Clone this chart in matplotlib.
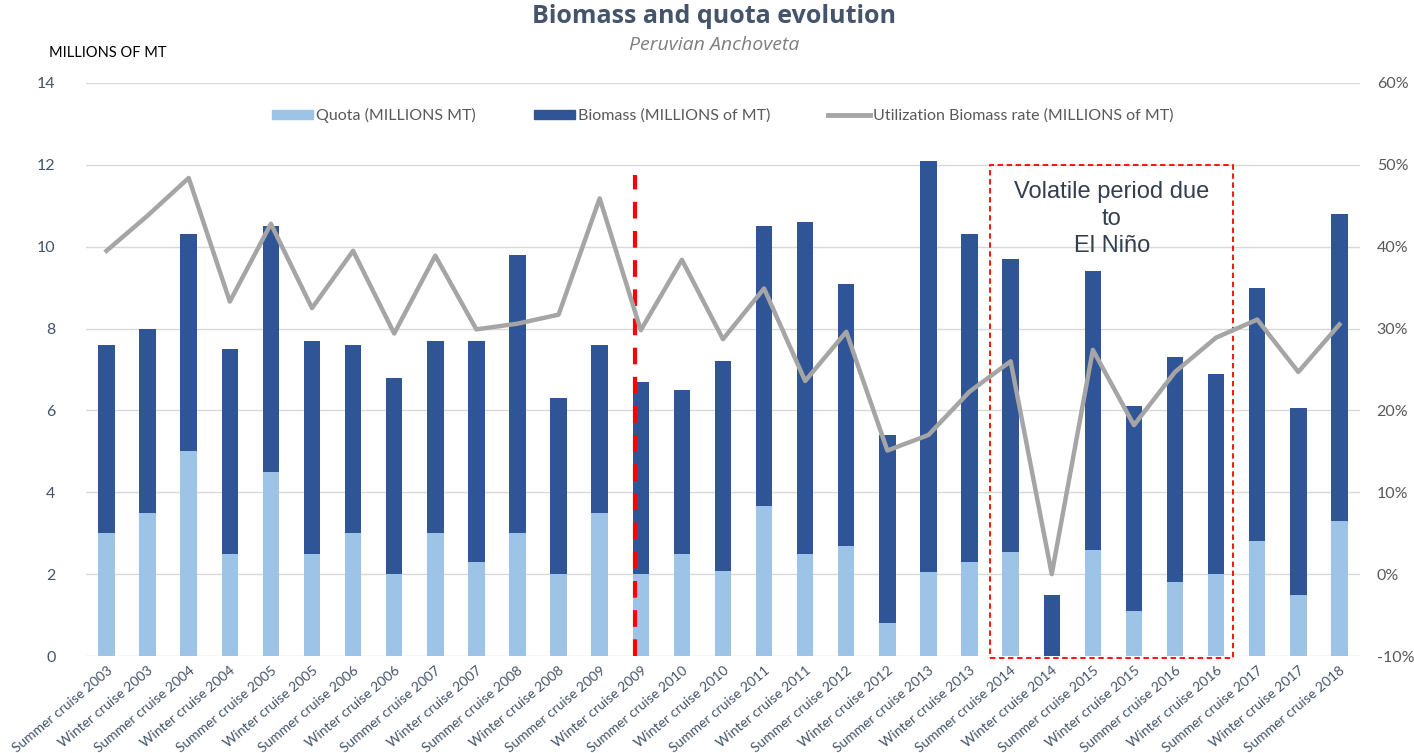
import numpy as np
import matplotlib.pyplot as plt
from matplotlib.patches import Rectangle
from matplotlib.lines import Line2D
from matplotlib.ticker import FuncFormatter

plt.rcParams['font.family'] = ['Lato', 'DejaVu Sans']

# Data
cruises = ['Summer cruise 2003', 'Winter cruise 2003', 'Summer cruise 2004', 'Winter cruise 2004',
           'Summer cruise 2005', 'Winter cruise 2005', 'Summer cruise 2006', 'Winter cruise 2006',
           'Summer cruise 2007', 'Winter cruise 2007', 'Summer cruise 2008', 'Winter cruise 2008',
           'Summer cruise 2009', 'Winter cruise 2009', 'Summer cruise 2010', 'Winter cruise 2010',
           'Summer cruise 2011', 'Winter cruise 2011', 'Summer cruise 2012', 'Winter cruise 2012',
           'Summer cruise 2013', 'Winter cruise 2013', 'Summer cruise 2014', 'Winter cruise 2014',
           'Summer cruise 2015', 'Winter cruise 2015', 'Summer cruise 2016', 'Winter cruise 2016',
           'Summer cruise 2017', 'Winter cruise 2017', 'Summer cruise 2018']
biomass = [7.6, 8.0, 10.3, 7.5, 10.5, 7.7, 7.6, 6.8, 7.7, 7.7, 9.8, 6.3, 7.6, 6.7, 6.5, 7.2,
           10.5, 10.6, 9.1, 5.4, 12.1, 10.3, 9.7, 1.5, 9.4, 6.1, 7.3, 6.9, 9.0, 6.06, 10.8]
quota = [3.0, 3.5, 5.0, 2.5, 4.5, 2.5, 3.0, 2.0, 3.0, 2.3, 3.0, 2.0, 3.5, 2.0, 2.5, 2.07,
         3.67, 2.5, 2.7, 0.81, 2.05, 2.3, 2.53, 0.0, 2.58, 1.11, 1.8, 2.0, 2.8, 1.5, 3.3]
rate = [39.5, 43.8, 48.4, 33.3, 42.8, 32.5, 39.5, 29.4, 38.9, 29.9, 30.6, 31.7, 45.9, 29.8,
        38.4, 28.7, 34.9, 23.6, 29.6, 15.1, 17.0, 22.3, 26.0, 0.0, 27.4, 18.2, 24.7, 28.9,
        31.1, 24.7, 30.5]

light = '#9DC3E6'
dark = '#2F5597'
grey = '#A5A5A5'
txt = '#595959'
slate = '#44546A'

fig = plt.figure(figsize=(14.14, 7.53), dpi=100)
ax = fig.add_axes([0.0608, 0.1288, 0.901, 0.761])
x = np.arange(len(cruises))

ax.bar(x, biomass, width=0.4, color=dark, zorder=2)
ax.bar(x, quota, width=0.4, color=light, zorder=3)
ax.set_xlim(-0.5, len(cruises) - 0.5)
ax.set_ylim(0, 14)
ax.set_yticks(np.arange(0, 15, 2))
ax.yaxis.grid(True, color='#D9D9D9', linewidth=1)
ax.set_axisbelow(True)
for s in ax.spines.values():
    s.set_visible(False)
ax.tick_params(axis='both', length=0, colors=slate, labelsize=11.5)
ax.tick_params(axis='y', pad=22)
ax.tick_params(axis='x', pad=6)
ax.set_xticks(x)
ax.set_xticklabels(cruises, rotation=40, ha='right', rotation_mode='anchor', fontsize=10)

ax2 = ax.twinx()
ax2.plot(x, rate, color=grey, linewidth=3.2, zorder=4)
ax2.set_ylim(-10, 60)
ax2.set_yticks(np.arange(-10, 61, 10))
ax2.yaxis.set_major_formatter(FuncFormatter(lambda v, p: f'{v:.0f}%'))
for s in ax2.spines.values():
    s.set_visible(False)
ax2.tick_params(axis='y', length=0, colors=txt, labelsize=11.5, pad=12)

# red dashed vertical line between the 2009 cruises
ax.plot([12.87, 12.87], [0, 11.75], color='red', linestyle=(0, (4, 3)), linewidth=3, zorder=5)

# El Nino box
ax.add_patch(Rectangle((21.5, -0.05), 5.92, 12.05, fill=False, edgecolor='red',
                       linestyle=(0, (3, 2)), linewidth=1.3, zorder=6, clip_on=False))
ax.text(24.46, 11.6, 'Volatile period due\nto\nEl Niño', ha='center', va='top',
        fontsize=17, color='#333F4F', family=['Liberation Sans', 'DejaVu Sans'],
        linespacing=1.3, zorder=7)

# legend
handles = [Rectangle((0, 0), 1, 1, color=light), Rectangle((0, 0), 1, 1, color=dark),
           Line2D([], [], color=grey, linewidth=3.5)]
labels = ['Quota (MILLIONS MT)', 'Biomass (MILLIONS of MT)',
          'Utilization Biomass rate (MILLIONS of MT)']
fig.legend(handles, labels, loc='center', bbox_to_anchor=(0.511, 0.847), ncol=3,
           frameon=False, fontsize=11.5, labelcolor=txt, handlelength=2.6,
           handleheight=0.5, handletextpad=0.2, columnspacing=3.6)

fig.text(0.505, 0.978, 'Biomass and quota evolution', ha='center', va='center',
         fontsize=18, fontweight='bold', color=slate, family=['Open Sans', 'DejaVu Sans'])
fig.text(0.505, 0.94, 'Peruvian Anchoveta', ha='center', va='center',
         fontsize=14, style='italic', color='#7F7F7F', family=['Open Sans', 'DejaVu Sans'])
fig.text(0.035, 0.929, 'MILLIONS OF MT', ha='left', va='center', fontsize=10.5, color='black')

fig.savefig('out.png', dpi=100)
